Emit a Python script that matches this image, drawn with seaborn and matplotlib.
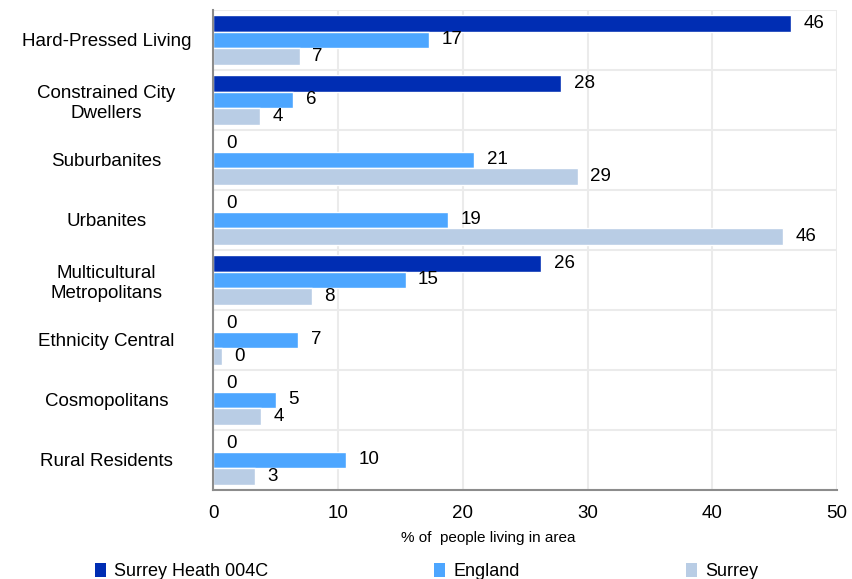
import pandas as pd
import numpy as np
import matplotlib
matplotlib.use("Agg")
import matplotlib.pyplot as plt
import seaborn as sns
from matplotlib.patches import Patch

###data
categories = ['Hard-Pressed Living', 'Constrained City\nDwellers', 'Suburbanites', 'Urbanites',
              'Multicultural\nMetropolitans', 'Ethnicity Central', 'Cosmopolitans', 'Rural Residents']
series = ['Surrey Heath 004C', 'England', 'Surrey']
surrey_heath = [46.3, 27.9, 0, 0, 26.3, 0, 0, 0]
england = [17.3, 6.4, 20.9, 18.8, 15.4, 6.8, 5.0, 10.6]
surrey = [6.9, 3.7, 29.2, 45.7, 7.9, 0.7, 3.8, 3.3]
surrey_heath_lbl = ['46', '28', '0', '0', '26', '0', '0', '0']
england_lbl = ['17', '6', '21', '19', '15', '7', '5', '10']
surrey_lbl = ['7', '4', '29', '46', '8', '0', '4', '3']
colors = ['#002db3', '#4da6ff', '#b9cde5']

df = pd.DataFrame({
    'area': categories * 3,
    'pct': surrey_heath + england + surrey,
    'series': [s for s in series for _ in categories],
})

sns.set_style('white')
plt.rcParams['font.family'] = ['Liberation Sans', 'DejaVu Sans']
plt.rcParams['text.color'] = 'black'

fig = plt.figure(figsize=(8.52, 5.79), dpi=100)
ax = fig.add_axes([213.5/852, 1-490/579, (837-213.5)/852, (490-10)/579])

sns.barplot(data=df, y='area', x='pct', hue='series', hue_order=series, palette=colors,
            orient='h', width=0.82, gap=0, saturation=1, ax=ax, legend=False)

for cont, lbls in zip(ax.containers, [surrey_heath_lbl, england_lbl, surrey_lbl]):
    ax.bar_label(cont, labels=lbls, padding=9, fontsize=13.5, color='black')

ax.set_xlim(0, 50)
ax.set_ylim(7.5, -0.5)
ax.set_xticks(np.arange(0, 51, 10))
ax.set_yticks(np.arange(-0.5, 8, 1), minor=True)
ax.grid(axis='x', which='major', color='#ebebeb', lw=1.5)
ax.grid(axis='y', which='minor', color='#ebebeb', lw=1.5)
ax.set_axisbelow(True)

for s in ['top', 'right']:
    ax.spines[s].set_visible(False)
for s in ['left', 'bottom']:
    ax.spines[s].set_color('#8c8c8c')
    ax.spines[s].set_linewidth(1.5)

ax.tick_params(axis='y', which='major', length=0, pad=77, labelsize=13.5, labelcolor='black')
ax.tick_params(axis='y', which='minor', length=4, width=1.5, color='#8c8c8c')
ax.tick_params(axis='x', which='major', length=5, width=1.5, color='#8c8c8c', labelsize=13.5,
               labelcolor='black', pad=6)
for t in ax.get_yticklabels():
    t.set_ha('center')
    t.set_multialignment('center')
    t.set_linespacing(1.2)

ax.set_ylabel('')
ax.set_xlabel('% of  people living in area', fontsize=11, color='black')
ax.xaxis.set_label_coords((488-213.5)/623.5, -0.085)

handles = [Patch(facecolor=c, edgecolor='none') for c in colors]
fig.legend(handles, series, loc='lower left', bbox_to_anchor=(79/852, -0.03), ncol=3,
           frameon=False, fontsize=13, handlelength=0.6, handleheight=0.85,
           handletextpad=0.45, columnspacing=9.2)

plt.savefig('out.png', dpi=100)
